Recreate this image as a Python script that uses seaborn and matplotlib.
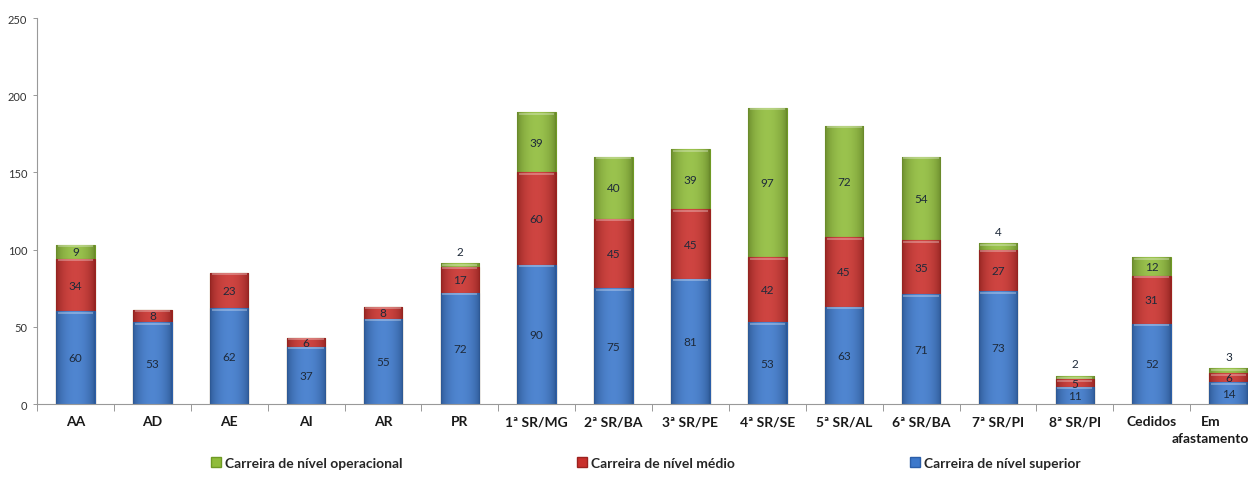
import matplotlib
matplotlib.use("Agg")
import matplotlib.pyplot as plt
import matplotlib.transforms as mtransforms
from matplotlib.colors import to_rgb
import seaborn as sns
import numpy as np
from matplotlib.patches import Patch

categories = ["AA", "AD", "AE", "AI", "AR", "PR", "1ª SR/MG", "2ª SR/BA", "3ª SR/PE",
              "4ª SR/SE", "5ª SR/AL", "6ª SR/BA", "7ª SR/PI", "8ª SR/PI", "Cedidos",
              "Em\nafastamento"]
superior = [60, 53, 62, 37, 55, 72, 90, 75, 81, 53, 63, 71, 73, 11, 52, 14]
medio = [34, 8, 23, 6, 8, 17, 60, 45, 45, 42, 45, 35, 27, 5, 31, 6]
operacional = [9, 0, 0, 0, 0, 2, 39, 40, 39, 97, 72, 54, 4, 2, 12, 3]

series_names = ["Carreira de nível operacional", "Carreira de nível médio",
                "Carreira de nível superior"]
c_op, c_med, c_sup = "#8fbc3a", "#c9302c", "#3c78cb"
e_op, e_med, e_sup = "#6f9a24", "#9c221f", "#2b5ea8"

sns.set_theme(style="white")
plt.rcParams["font.family"] = ["Lato", "DejaVu Sans"]

fig = plt.figure(figsize=(12.48, 4.85), dpi=100)
ax = fig.add_axes([37 / 1248, 1 - 405 / 485, 1230 / 1248, 386 / 485])

sup = np.array(superior)
med = np.array(medio)
op = np.array(operacional)
top_med = sup + med
total = top_med + op


def shaded_rgb(color, n=64):
    """Horizontal shading: darker at the sides, slightly lighter in the middle."""
    base = np.array(to_rgb(color))
    t = np.linspace(0, 1, n)
    k = np.sin(np.pi * t) ** 0.6
    dark = base * 0.72
    light = base + (1 - base) * 0.10
    row = dark[None, :] * (1 - k[:, None]) + light[None, :] * k[:, None]
    return row[None, :, :]


# Stacked bars drawn back to front: full total, then the lower two layers
layers = [(total, c_op, e_op), (top_med, c_med, e_med), (sup, c_sup, e_sup)]
for li, (heights, col, edge) in enumerate(layers):
    n_before = len(ax.patches)
    sns.barplot(x=categories, y=heights, color=col, saturation=1, width=0.5,
                errorbar=None, edgecolor=edge, linewidth=0.8, ax=ax)
    new_patches = ax.patches[n_before:]
    img = shaded_rgb(col)
    for p in new_patches:
        p.set_zorder(1 + li * 0.3)
        h = p.get_height()
        if h <= 0:
            continue
        x0, y0, w = p.get_x(), p.get_y(), p.get_width()
        im = ax.imshow(img, extent=(x0, x0 + w, y0, y0 + h), aspect="auto",
                       interpolation="bilinear", zorder=1.1 + li * 0.3)
        im.set_clip_path(p)
        # thin light band along the top of each segment
        ax.plot([x0 + w * 0.04, x0 + w * 0.96], [y0 + h - 0.9, y0 + h - 0.9],
                color="white", alpha=0.35, lw=1.2, zorder=1.15 + li * 0.3,
                solid_capstyle="butt")

label_kw = dict(ha="center", va="center", fontsize=8.5, color="#1e2a3a", zorder=5)
for i in range(len(categories)):
    ax.text(i, sup[i] / 2, str(sup[i]), **label_kw)
    if med[i] > 0:
        ax.text(i, sup[i] + med[i] / 2, str(med[i]), **label_kw)
    if op[i] > 0:
        if op[i] < 5:
            ax.text(i, total[i] + 8, str(op[i]), **label_kw)
        else:
            ax.text(i, top_med[i] + op[i] / 2, str(op[i]), **label_kw)

ax.set_xlim(-0.5, len(categories) - 0.5)
ax.set_ylim(0, 250)
ax.set_yticks(range(0, 251, 50))
ax.tick_params(axis="y", labelsize=8, colors="#888888", length=3, width=0.6, pad=4,
               direction="out", left=True)
for lbl in ax.get_yticklabels():
    lbl.set_color("#333333")

ax.set_xticks(range(len(categories)))
ax.set_xticklabels(categories, fontsize=10, fontweight="bold", color="#1a1a1a",
                   linespacing=1.5)
ax.tick_params(axis="x", length=0, pad=8)
ax.set_xticks(np.arange(-0.5, len(categories), 1.0), minor=True)
ax.tick_params(axis="x", which="minor", length=5, width=0.6, color="#888888",
               direction="out", bottom=True)
# keep the last two-line label inside the figure edge
last = ax.get_xticklabels()[-1]
last.set_transform(last.get_transform() +
                   mtransforms.ScaledTranslation(-18 / 100, 0, fig.dpi_scale_trans))

for s in ["top", "right"]:
    ax.spines[s].set_visible(False)
for s in ["left", "bottom"]:
    ax.spines[s].set_color("#999999")
    ax.spines[s].set_linewidth(0.8)
ax.set_xlabel("")
ax.set_ylabel("")
ax.grid(False)

handles = [Patch(facecolor=c_op, edgecolor=e_op), Patch(facecolor=c_med, edgecolor=e_med),
           Patch(facecolor=c_sup, edgecolor=e_sup)]
fig.legend(handles, series_names, loc="center left", bbox_to_anchor=(211 / 1248, 1 - 464 / 485),
           ncol=3, frameon=False, prop={"weight": "bold", "size": 10},
           handlelength=0.7, handleheight=0.7, handletextpad=0.3, columnspacing=12.6,
           borderaxespad=0, borderpad=0)

fig.savefig("out.png", dpi=100)
